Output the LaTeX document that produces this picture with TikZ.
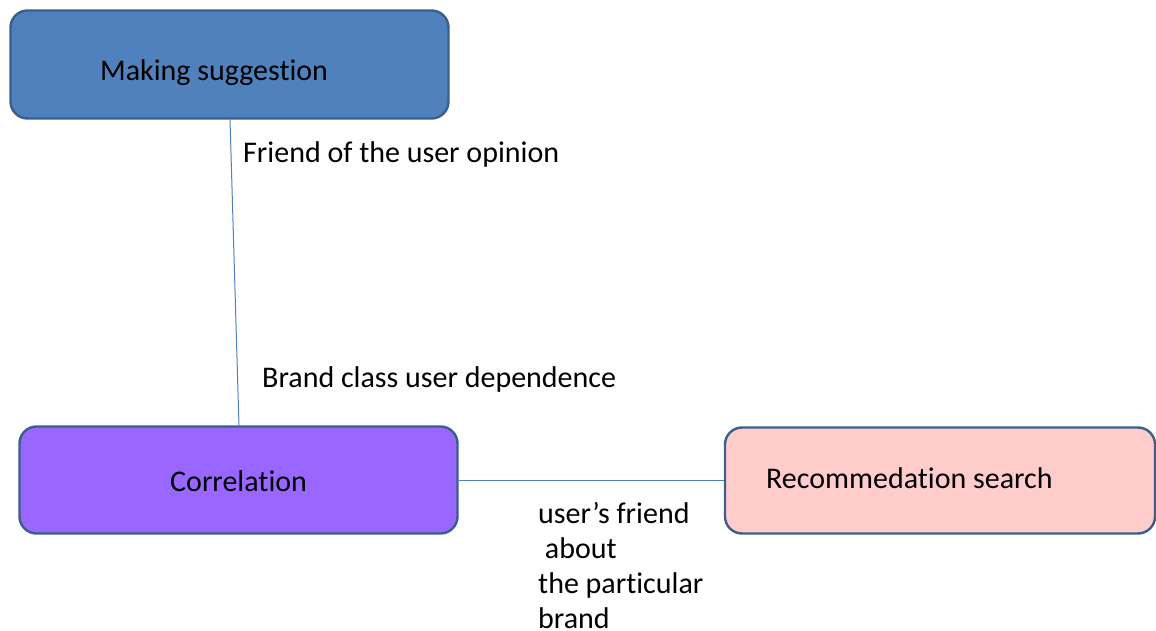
\documentclass[tikz,border=0pt]{standalone}
\usepackage{fontspec}
\setmainfont{Carlito}[Ligatures=NoCommon]
\definecolor{edgeblue}{HTML}{3B5E8C}
\definecolor{lineblue}{HTML}{4F81BD}
\definecolor{boxblue}{HTML}{4F81BD}
\definecolor{boxviolet}{HTML}{9966FF}
\definecolor{boxpink}{HTML}{FFCCCC}
\tikzset{
  box/.style={draw=edgeblue, line width=2.4pt, rounded corners=17pt, inner sep=0pt},
  boxtext/.style={font=\fontsize{30}{35}\selectfont, inner sep=0pt, anchor=west},
  link/.style={draw=lineblue, line width=1pt},
  note/.style={font=\fontsize{30}{35}\selectfont, inner sep=0pt, anchor=west, align=left},
}
\begin{document}
\begin{tikzpicture}[x=1pt, y=-1pt]
\useasboundingbox (0,0) rectangle (1156,631);

% boxes
\node[box, fill=boxblue, minimum width=438pt, minimum height=108pt] (ms) at (229.5,64.5) {};
\node[box, fill=boxviolet, minimum width=438pt, minimum height=107pt] (co) at (238.5,480) {};
\node[box, fill=boxpink, minimum width=430pt, minimum height=106pt] (rs) at (940,480.5) {};

% box captions
\node[boxtext] (mst) at (100,73) {Making suggestion};
\node[boxtext] (cot) at (170,481) {Correlation};
\node[boxtext] (rst) at (766,478) {Recommedation search};

% connectors
\coordinate (top) at (230,119.5);
\coordinate (bot) at (239,426);
\draw[link] (top) -- (bot);
\coordinate (hl) at (459,480);
\coordinate (hr) at (724,480);
\draw[link] (hl) -- (hr);

% connector notes
\node[note] (n1) at (243,155) {Friend of the user opinion};
\node[note] (n2) at (262,380) {Brand class user dependence};
\node[note, anchor=north west] (n3) at (538,502.5) {user’s friend\\\ about\\the particular\\brand};
\end{tikzpicture}
\end{document}
